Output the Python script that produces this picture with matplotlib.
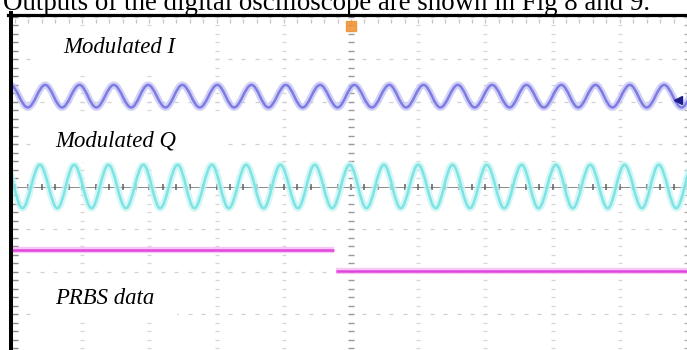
import numpy as np
import matplotlib
matplotlib.use("Agg")
import matplotlib.pyplot as plt
from matplotlib.path import Path
from matplotlib.patches import PathPatch, Rectangle
from matplotlib.lines import Line2D

W, H = 687, 350

# scope traces (time and volts in divisions)
i_peaks = [-5.07, -4.55, -4.04, -3.53, -3.02, -2.51, -1.99, -1.48, -0.97, -0.46,
           0.05, 0.57, 1.08, 1.59, 2.10, 2.61, 3.13, 3.64, 4.15, 4.66, 5.17]
i_troughs = [-4.81, -4.30, -3.79, -3.27, -2.76, -2.25, -1.74, -1.23, -0.72, -0.20,
             0.31, 0.82, 1.33, 1.84, 2.36, 2.87, 3.38, 3.89, 4.40, 4.92]
i_high, i_low = 2.39, 1.86

q_peaks = [-5.14, -4.63, -4.12, -3.61, -3.09, -2.58, -2.07, -1.56, -1.05, -0.54,
           -0.02, 0.49, 1.00, 1.51, 2.02, 2.54, 3.05, 3.56, 4.07, 4.58, 5.09]
q_troughs = [-4.89, -4.37, -3.86, -3.35, -2.84, -2.33, -1.82, -1.30, -0.79, -0.28,
             0.23, 0.74, 1.26, 1.77, 2.28, 2.79, 3.30, 3.82, 4.33, 4.84]
q_high, q_low = 0.51, -0.51

prbs_start = [-5.05, -0.22]
prbs_end = [-0.25, 5.0]
prbs_level = [-1.49, -1.99]

labels = ["Modulated I", "Modulated Q", "PRBS data"]
caption = "Outputs of the digital oscilloscope are shown in Fig 8 and 9."


def fx(px):
    return px / W


def fy(py):
    return 1 - py / H


def wave_path(peaks, troughs, high, low, k=0.36):
    pts = sorted([(t, high) for t in peaks] + [(t, low) for t in troughs])
    verts = [pts[0]]
    codes = [Path.MOVETO]
    for (t0, v0), (t1, v1) in zip(pts[:-1], pts[1:]):
        d = (t1 - t0) * k
        verts += [(t0 + d, v0), (t1 - d, v1), (t1, v1)]
        codes += [Path.CURVE4] * 3
    return Path(verts, codes)


fig = plt.figure(figsize=(W / 100, H / 100), dpi=100)

# screen: 10 x 8 divisions, centre at px (351, 186.5), 67.2 px / 42.5 px per div
ax = fig.add_axes([fx(12), 0, fx(675), 334 / H])
ax.set_xlim((12 - 351) / 67.2, (687 - 351) / 67.2)
ax.set_ylim((186.5 - 350) / 42.5, (186.5 - 16) / 42.5)
ax.axis("off")

# graticule (faint dotted)
minor = np.round(np.arange(-5, 5.01, 0.2), 2)
minor_y = np.round(np.arange(-4, 4.01, 0.2), 2)
for gx in range(-4, 5):
    if gx == 0:
        continue
    ax.plot(np.full_like(minor_y, gx), minor_y, ls="none", marker="_", ms=3.5,
            mec="#d6d6d6", mew=0.9, zorder=1)
for gy in range(-4, 5):
    ax.plot(minor, np.full_like(minor, gy), ls="none", marker="_", ms=3.5,
            mec="#d0d0d0", mew=0.9, zorder=1)
ax.axhline(0, color="#8a8a8a", lw=0.7, zorder=1)
ax.plot(minor, np.zeros_like(minor), ls="none", marker="|", ms=4.5, mec="#606060", mew=1.1, zorder=1)
for gx, c in [(0, "#9a9a9a"), (-5, "#8a8a8a"), (5, "#b0b0b0")]:
    ax.plot(np.full_like(minor_y, gx), minor_y, ls="none", marker="_", ms=5, mec=c, mew=1.0, zorder=1)
ax.plot(minor, np.full_like(minor, 3.9), ls="none", marker="|", ms=3, mec="#c4c4c4", mew=0.9, zorder=1)

# white label boxes pasted over the screen
boxes = [(33, 28, 177, 45), (33, 112, 189, 50), (33, 275, 144, 43)]
for bx, by, bw, bh in boxes:
    fig.patches.append(Rectangle((fx(bx), fy(by + bh)), bw / W, bh / H, fc="white", ec="none",
                                 transform=fig.transFigure, zorder=2))

# traces
for peaks, troughs, hi, lo, halo, core in [
        (i_peaks, i_troughs, i_high, i_low, "#c2c2f4", "#7572e2"),
        (q_peaks, q_troughs, q_high, q_low, "#c6f4f4", "#74e2e2")]:
    p = wave_path(peaks, troughs, hi, lo)
    ax.add_patch(PathPatch(p, fill=False, ec=halo, lw=5, alpha=0.75, zorder=3))
    ax.add_patch(PathPatch(p, fill=False, ec=core, lw=1.8, alpha=0.9, zorder=4))
ax.hlines(prbs_level, prbs_start, prbs_end, colors="#f6b4f2", lw=4.5, alpha=0.75, zorder=3)
ax.hlines(prbs_level, prbs_start, prbs_end, colors="#e046de", lw=1.8, zorder=4)

# trigger and channel markers
ax.plot([0], [3.78], marker="s", ms=7, color="#f0902e", alpha=0.85, zorder=5)
ax.plot([4.87], [2.04], marker="<", ms=6, color="#1c1c8c", zorder=5)

# labels
serif = ["Liberation Serif", "DejaVu Serif"]
for txt, (lx, ly) in zip(labels, [(63, 53), (55, 147), (55, 304)]):
    fig.text(fx(lx), fy(ly), txt, family=serif, style="italic", fontsize=16.4,
             va="baseline", zorder=6)

# page text cut off above (as in the source), and frame of the pasted figure
fig.text(fx(3), fy(9.5), caption, family=serif, fontsize=19.4, va="baseline")
fig.add_artist(Line2D([fx(8), 1], [fy(14.5), fy(14.5)], color="black", lw=2.3))
fig.add_artist(Line2D([fx(10.5), fx(10.5)], [fy(13), 0], color="black", lw=2.9))

fig.savefig("out.png", dpi=100)
